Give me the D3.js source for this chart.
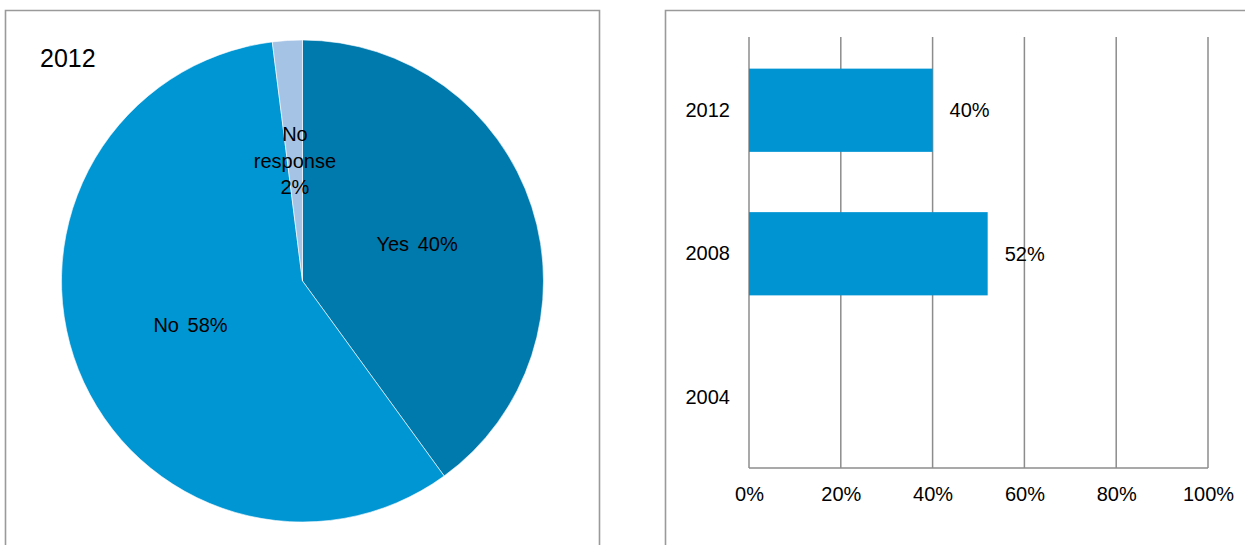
<!DOCTYPE html>
<html>
<head>
<meta charset="utf-8">
<script src="https://cdn.jsdelivr.net/npm/d3@7"></script>
<style>
  html, body { margin: 0; padding: 0; background: #fff; }
  svg { display: block; font-family: "Liberation Sans", Arial, sans-serif; }
</style>
</head>
<body>
<svg id="chart" width="1245" height="545"></svg>
<script>
// Pie: answers in 2012
const pieTitle = "2012";
const pieCategories = ["Yes", "No", "No response"];
const pieValues = [40, 58, 2];
const pieLabels = [["Yes 40%"], ["No 58%"], ["No", "response", "2%"]];
const pieColors = ["#0079ad", "#0095d3", "#a4c3e5"];

// Bars: share answering yes by year
const barYears = ["2012", "2008", "2004"];
const barValues = [40, 52, null];
const xTicks = [0, 20, 40, 60, 80, 100];

const svg = d3.select("#chart");
const frame = "#9a9a9a";
const txtSize = 20;

// Panel frames (open at the bottom / right edge)
svg.append("path")
  .attr("d", "M5.5,545 V10.5 H599.5 V545")
  .attr("fill", "none").attr("stroke", frame).attr("stroke-width", 1.6);
svg.append("path")
  .attr("d", "M665.5,545 V10.5 H1245")
  .attr("fill", "none").attr("stroke", frame).attr("stroke-width", 1.6);

// ---------- Pie ----------
const cx = 302.5, cy = 281, r = 241;
const pie = d3.pie().sort(null).value(d => d)(pieValues);
const arc = d3.arc().innerRadius(0).outerRadius(r);
const labelArc = d3.arc().innerRadius(r * 0.5).outerRadius(r * 0.5);
const gp = svg.append("g").attr("transform", `translate(${cx},${cy})`);
gp.selectAll("path").data(pie).join("path")
  .attr("d", arc)
  .attr("fill", (d, i) => pieColors[i])
  .attr("stroke", "#ffffff").attr("stroke-width", 0.6);

const lineH = 26.5;
pie.forEach((d, i) => {
  const [x, y] = labelArc.centroid(d);
  const lines = pieLabels[i];
  const t = gp.append("text")
    .attr("text-anchor", "middle")
    .attr("font-size", txtSize).attr("word-spacing", 3)
    .attr("fill", "#000");
  lines.forEach((ln, k) => {
    t.append("tspan")
      .attr("x", x)
      .attr("y", y + (k - (lines.length - 1) / 2) * lineH)
      .attr("dy", "0.35em")
      .text(ln);
  });
});

svg.append("text")
  .attr("x", 40).attr("y", 67)
  .attr("font-size", 25).attr("fill", "#000")
  .text(pieTitle);

// ---------- Bars ----------
const x = d3.scaleLinear().domain([0, 100]).range([749, 1208]);
const y = d3.scaleBand().domain(barYears).range([38.5, 469])
  .paddingInner(0.42).paddingOuter(0.21);
const gridTop = 37, gridBottom = 468;

const grid = svg.append("g");
grid.selectAll("line").data(xTicks).join("line")
  .attr("x1", d => x(d)).attr("x2", d => x(d))
  .attr("y1", gridTop).attr("y2", gridBottom)
  .attr("stroke", "#8c8c8c").attr("stroke-width", 1.5);

svg.append("line")
  .attr("x1", x(0)).attr("x2", x(100))
  .attr("y1", gridBottom).attr("y2", gridBottom)
  .attr("stroke", "#8c8c8c").attr("stroke-width", 1.5);

const barData = barYears.map((yr, i) => ({ yr, v: barValues[i] })).filter(d => d.v != null);
svg.append("g").selectAll("rect").data(barData).join("rect")
  .attr("x", x(0)).attr("y", d => y(d.yr))
  .attr("width", d => x(d.v) - x(0)).attr("height", y.bandwidth())
  .attr("fill", "#0094d2");

svg.append("g").selectAll("text").data(barData).join("text")
  .attr("x", d => x(d.v) + 17)
  .attr("y", d => y(d.yr) + y.bandwidth() / 2)
  .attr("dy", "0.35em")
  .attr("font-size", txtSize).attr("fill", "#000")
  .text(d => d.v + "%");

// axes drawn with d3 axis generators, domain/ticks hidden
const xAxis = svg.append("g").attr("transform", `translate(0,${gridBottom})`)
  .call(d3.axisBottom(x).tickValues(xTicks).tickFormat(d => d + "%").tickSize(0).tickPadding(19));
xAxis.select(".domain").remove();
xAxis.selectAll("text").attr("font-size", txtSize)
  .attr("fill", "#000").attr("font-family", "Liberation Sans, Arial, sans-serif");

const yAxis = svg.append("g").attr("transform", `translate(${x(0)},0)`)
  .call(d3.axisLeft(y).tickSize(0).tickPadding(19));
yAxis.select(".domain").remove();
yAxis.selectAll("text").attr("font-size", txtSize)
  .attr("fill", "#000").attr("font-family", "Liberation Sans, Arial, sans-serif");
</script>
</body>
</html>
